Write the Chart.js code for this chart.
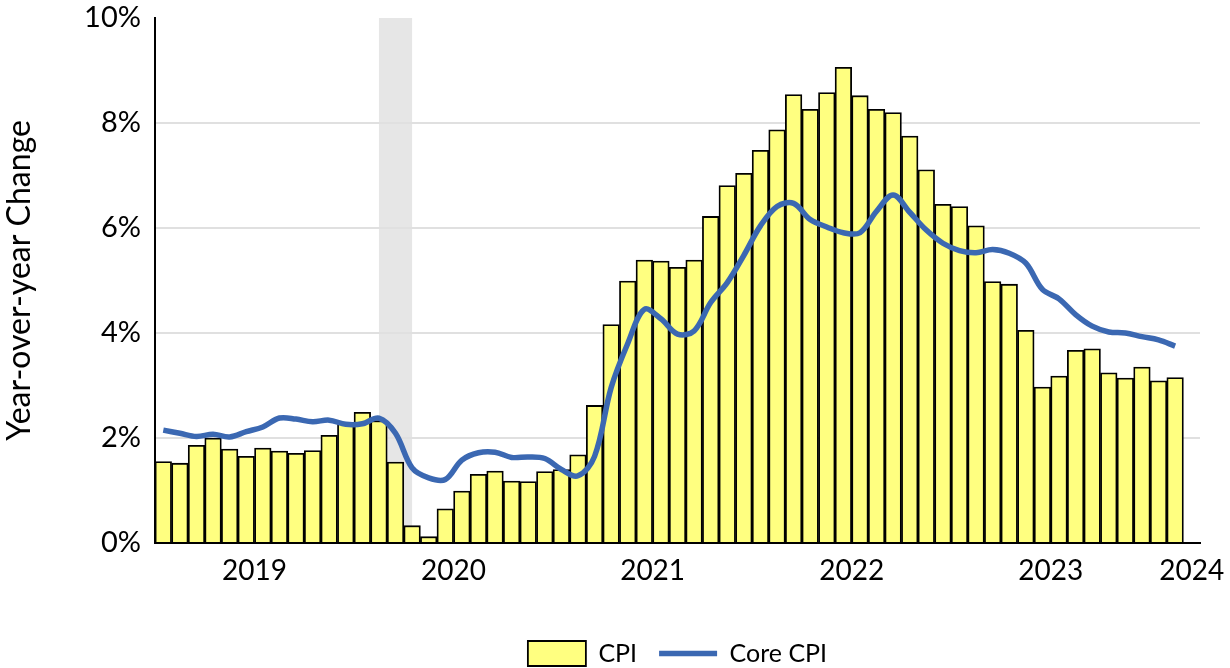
<!DOCTYPE html>
<html>
<head>
<meta charset="utf-8">
<script src="https://cdn.jsdelivr.net/npm/chart.js@4.4.1/dist/chart.umd.min.js"></script>
<style>
  html, body { margin: 0; padding: 0; background: #fff; }
  #wrap { width: 1230px; height: 668px; position: relative; }
</style>
</head>
<body>
<div id="wrap"><canvas id="cpiChart"></canvas></div>
<script>
// Monthly categories, Jan 2019 - Feb 2024 (one empty slot after the last bar)
const months = [
  '2019-01', '2019-02', '2019-03', '2019-04', '2019-05', '2019-06', '2019-07', '2019-08', '2019-09', '2019-10', '2019-11', '2019-12',
  '2020-01', '2020-02', '2020-03', '2020-04', '2020-05', '2020-06', '2020-07', '2020-08', '2020-09', '2020-10', '2020-11', '2020-12',
  '2021-01', '2021-02', '2021-03', '2021-04', '2021-05', '2021-06', '2021-07', '2021-08', '2021-09', '2021-10', '2021-11', '2021-12',
  '2022-01', '2022-02', '2022-03', '2022-04', '2022-05', '2022-06', '2022-07', '2022-08', '2022-09', '2022-10', '2022-11', '2022-12',
  '2023-01', '2023-02', '2023-03', '2023-04', '2023-05', '2023-06', '2023-07', '2023-08', '2023-09', '2023-10', '2023-11', '2023-12',
  '2024-01', '2024-02'
];

// CPI, year-over-year % change
const cpi = [
  1.55, 1.52, 1.86, 2.00, 1.79, 1.65, 1.81, 1.75, 1.71, 1.76, 2.05, 2.29,
  2.49, 2.33, 1.54, 0.33, 0.12, 0.65, 0.99, 1.31, 1.37, 1.18, 1.17, 1.36,
  1.40, 1.68, 2.62, 4.16, 4.99, 5.39, 5.37, 5.25, 5.39, 6.22, 6.81, 7.04,
  7.48, 7.87, 8.54, 8.26, 8.58, 9.06, 8.52, 8.26, 8.20, 7.75, 7.11, 6.45,
  6.41, 6.04, 4.98, 4.93, 4.05, 2.97, 3.18, 3.67, 3.70, 3.24, 3.14, 3.35,
  3.09, 3.15
];

// Core CPI, year-over-year % change
const coreCpi = [
  2.15, 2.09, 2.03, 2.07, 2.02, 2.12, 2.21, 2.38, 2.36, 2.31, 2.34, 2.26,
  2.27, 2.38, 2.09, 1.43, 1.24, 1.21, 1.58, 1.72, 1.73, 1.63, 1.64, 1.61,
  1.40, 1.28, 1.65, 2.96, 3.80, 4.45, 4.27, 3.98, 4.04, 4.58, 4.96, 5.48,
  6.04, 6.41, 6.47, 6.16, 6.02, 5.91, 5.91, 6.32, 6.63, 6.30, 5.96, 5.71,
  5.57, 5.53, 5.59, 5.52, 5.33, 4.83, 4.65, 4.35, 4.13, 4.02, 4.00, 3.93,
  3.87, 3.75
];

const yearLabels = ['2019', '2020', '2021', '2022', '2023', '2024'];
const yTicks = [0, 2, 4, 6, 8, 10];
const recession = ['2020-02', '2020-04'];

const slotCount = months.length + 1;
const monthPos = m => months.indexOf(m) + 0.5;
// year label sits at the start of July, last one pinned to the final slot
const yearPos = y => Math.min((Number(y) - 2019) * 12 + 6, slotCount - 0.5);

const FONT = 'Lato, "Liberation Sans", sans-serif';

// grey band behind everything for the 2020 recession
const recessionShade = {
  id: 'recessionShade',
  beforeDraw(chart) {
    const { ctx, chartArea, scales } = chart;
    const x0 = scales.x.getPixelForValue(monthPos(recession[0]));
    const x1 = scales.x.getPixelForValue(monthPos(recession[1]));
    ctx.save();
    ctx.fillStyle = '#e6e6e6';
    ctx.fillRect(x0, chartArea.top, x1 - x0, chartArea.bottom - chartArea.top);
    ctx.restore();
  }
};

const ctx = document.getElementById('cpiChart').getContext('2d');
const chart = new Chart(ctx, {
  type: 'bar',
  data: {
    datasets: [{
      label: 'CPI',
      data: cpi.map((v, i) => ({ x: i + 0.5, y: v })),
      backgroundColor: '#ffff80',
      borderColor: '#000',
      borderWidth: 1.8,
      barPercentage: 1,
      categoryPercentage: 1,
      order: 2
    }, {
      type: 'line',
      label: 'Core CPI',
      data: coreCpi.map((v, i) => ({ x: i + 0.5, y: v })),
      borderColor: '#3b68b2',
      backgroundColor: '#3b68b2',
      borderWidth: 5.5,
      pointRadius: 0,
      tension: 0.35,
      order: 1
    }]
  },
  options: {
    responsive: true,
    maintainAspectRatio: false,
    animation: false,
    layout: { padding: { left: 0, right: 30, top: 2, bottom: -8 } },
    plugins: {
      tooltip: { enabled: false },
      legend: {
        position: 'bottom',
        fullSize: false,
        labels: {
          font: { family: FONT, size: 25 },
          color: '#000',
          usePointStyle: true,
          pointStyleWidth: 58,
          boxHeight: 26,
          padding: 22,
          sort: (a, b) => a.datasetIndex - b.datasetIndex,
          generateLabels(c) {
            const items = Chart.defaults.plugins.legend.labels.generateLabels(c);
            items.forEach(it => {
              it.pointStyle = it.datasetIndex === 0 ? 'rect' : 'line';
            });
            return items;
          }
        }
      }
    },
    scales: {
      x: {
        type: 'linear',
        min: 0,
        max: slotCount,
        offset: false,
        grid: { display: false, offset: false },
        border: { display: true, color: '#000', width: 2 },
        afterBuildTicks(scale) {
          scale.ticks = yearLabels.map(y => ({ value: yearPos(y), label: y }));
        },
        afterFit(scale) { scale.height = 76; },
        ticks: {
          autoSkip: false,
          maxRotation: 0,
          padding: 3,
          color: '#000',
          font: { family: FONT, size: 28 },
          callback(value, index) { return yearLabels[index]; }
        }
      },
      y: {
        min: 0,
        max: 10,
        afterBuildTicks(scale) {
          scale.ticks = yTicks.map(v => ({ value: v }));
        },
        afterFit(scale) {
          scale.width = 155;
          scale.paddingTop = 18;
        },
        grid: {
          drawTicks: false,
          lineWidth: 2,
          color: c => (c.tick.value === 0 || c.tick.value === 10) ? 'rgba(0,0,0,0)' : '#e0e0e0'
        },
        border: { display: true, color: '#000', width: 2 },
        ticks: {
          padding: 14,
          color: '#000',
          font: { family: FONT, size: 29 },
          callback: v => v + '%'
        },
        title: {
          display: true,
          text: 'Year-over-year Change',
          color: '#000',
          font: { family: FONT, size: 32 },
          padding: { top: 0, bottom: 0 }
        }
      }
    }
  },
  plugins: [recessionShade]
});
</script>
</body>
</html>
